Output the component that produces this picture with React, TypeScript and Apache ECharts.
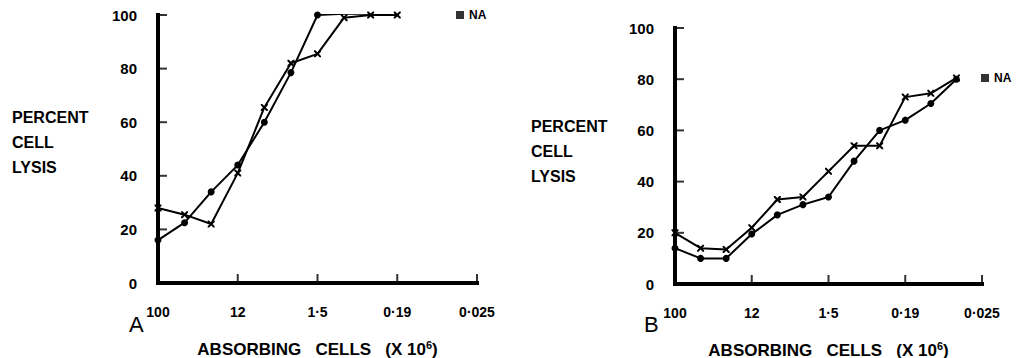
import React, { useEffect, useRef } from "react";
import * as echarts from "echarts";

const xTickLabels = ["100", "12", "1·5", "0·19", "0·025"];
const xTickSteps = [0, 3, 6, 9, 12];
const yTickValues = [0, 20, 40, 60, 80, 100];

const stepsA = [0, 1, 2, 3, 4, 5, 6, 7, 8, 9];
const dotsA = [16, 22.5, 34, 44, 60, 78.5, 100, 100.5, 100.5, 100.5];
const crossA = [28, 25.5, 22, 41, 65.5, 82, 85.5, 99, 100, 100];

const stepsB = [0, 1, 2, 3, 4, 5, 6, 7, 8, 9, 10, 11];
const dotsB = [14, 10, 10, 19.5, 27, 31, 34, 48, 60, 64, 70.5, 80];
const crossB = [20, 14, 13.5, 22, 33, 34, 44, 54, 54, 73, 74.5, 80.5];

const FONT = "'Liberation Sans', Arial, sans-serif";
const CROSS =
  "path://M0,0L2,0L5,3L8,0L10,0L10,2L7,5L10,8L10,10L8,10L5,7L2,10L0,10L0,8L3,5L0,2Z";

const xMin = xTickSteps[0];
const xMax = xTickSteps[xTickSteps.length - 1];
const yMin = yTickValues[0];
const yMax = yTickValues[yTickValues.length - 1];

const xAxisCfg = (gridIndex: number) => ({
  type: "value",
  gridIndex,
  min: xMin,
  max: xMax,
  interval: 3,
  axisLine: { show: false, onZero: false },
  axisTick: { show: false },
  axisLabel: {
    formatter: (v: number) => xTickLabels[Math.round(v / 3)] ?? "",
    margin: 22,
    color: "#000",
    fontSize: 14,
    fontWeight: "bold",
    fontFamily: FONT,
  },
  splitLine: { show: false },
  name: "ABSORBING   CELLS   (X 10{sup|6})",
  nameLocation: "middle",
  nameGap: 56,
  nameTextStyle: {
    color: "#000",
    fontSize: 17,
    fontWeight: "bold",
    fontFamily: FONT,
    rich: {
      sup: {
        color: "#000",
        fontSize: 11,
        fontWeight: "bold",
        fontFamily: FONT,
        padding: [0, 0, 9, 0],
      },
    },
  },
});

const yAxisCfg = (gridIndex: number) => ({
  type: "value",
  gridIndex,
  min: yMin,
  max: yMax,
  interval: 20,
  axisLine: { show: false },
  axisTick: { show: false },
  axisLabel: {
    margin: 21,
    color: "#000",
    fontSize: 15,
    fontWeight: "bold",
    fontFamily: FONT,
  },
  splitLine: { show: false },
});

// Axis frame as a polyline through the axes' own scale
const frameSeries = (gi: number) => ({
  name: "frame" + gi,
  type: "line",
  xAxisIndex: gi,
  yAxisIndex: gi,
  silent: true,
  symbol: "none",
  z: 4,
  data: [
    [xMax, yMin],
    [xMin, yMin],
    [xMin, yMax],
  ],
  lineStyle: { color: "#000", width: 4, cap: "square", join: "miter" },
});

// Inward tick marks, placed at tick values
const xTickSeries = (gi: number) => ({
  name: "xticks" + gi,
  type: "scatter",
  xAxisIndex: gi,
  yAxisIndex: gi,
  silent: true,
  z: 4,
  symbol: "rect",
  symbolSize: [2, 9],
  symbolOffset: [0, -4.5],
  data: xTickSteps.slice(1).map((t) => [t, yMin]),
  itemStyle: { color: "#000" },
});

const yTickSeries = (gi: number) => ({
  name: "yticks" + gi,
  type: "scatter",
  xAxisIndex: gi,
  yAxisIndex: gi,
  silent: true,
  z: 4,
  symbol: "rect",
  symbolSize: [9, 2],
  symbolOffset: [4.5, 0],
  data: yTickValues.slice(1).map((v) => [xMin, v]),
  itemStyle: { color: "#000" },
});

const lineSeries = (
  name: string,
  xi: number,
  steps: number[],
  vals: number[],
  symbol: string,
  size: number
) => ({
  name,
  type: "line",
  xAxisIndex: xi,
  yAxisIndex: xi,
  data: steps.map((s, i) => [s, vals[i]]),
  symbol,
  symbolSize: size,
  lineStyle: { color: "#000", width: 2 },
  itemStyle: { color: "#000" },
  z: 3,
});

const legendCfg = (left: number, top: number) => ({
  data: ["NA"],
  left,
  top,
  padding: 0,
  icon: "rect",
  itemWidth: 8,
  itemHeight: 8,
  itemGap: 4,
  selectedMode: false,
  textStyle: { color: "#000", fontSize: 12, fontWeight: "bold", fontFamily: FONT },
});

export default function App() {
  const ref = useRef<HTMLDivElement>(null);
  useEffect(() => {
    if (!ref.current) return;
    const chart = echarts.init(ref.current, undefined, { renderer: "svg" });
    chart.setOption({
      animation: false,
      backgroundColor: "#fff",
      grid: [
        { left: 158, top: 15, width: 319, height: 268, outerBoundsMode: "none" },
        { left: 675, top: 28, width: 307, height: 256, outerBoundsMode: "none" },
      ],
      xAxis: [xAxisCfg(0), xAxisCfg(1)],
      yAxis: [yAxisCfg(0), yAxisCfg(1)],
      legend: [legendCfg(456, 9), legendCfg(981, 72)],
      graphic: [
        {
          type: "text",
          left: 12,
          top: 105,
          style: {
            text: "PERCENT\nCELL\nLYSIS",
            fill: "#000",
            font: `bold 16px ${FONT}`,
            lineHeight: 25,
          },
        },
        {
          type: "text",
          left: 531,
          top: 114,
          style: {
            text: "PERCENT\nCELL\nLYSIS",
            fill: "#000",
            font: `bold 16px ${FONT}`,
            lineHeight: 25,
          },
        },
        {
          type: "text",
          left: 129,
          top: 313,
          style: { text: "A", fill: "#000", font: `22px ${FONT}` },
        },
        {
          type: "text",
          left: 644,
          top: 313,
          style: { text: "B", fill: "#000", font: `22px ${FONT}` },
        },
      ],
      series: [
        frameSeries(0),
        frameSeries(1),
        xTickSeries(0),
        xTickSeries(1),
        yTickSeries(0),
        yTickSeries(1),
        lineSeries("dots A", 0, stepsA, dotsA, "circle", 7),
        lineSeries("cross A", 0, stepsA, crossA, CROSS, 7),
        lineSeries("dots B", 1, stepsB, dotsB, "circle", 7),
        lineSeries("cross B", 1, stepsB, crossB, CROSS, 7),
        {
          name: "NA",
          type: "scatter",
          xAxisIndex: 0,
          yAxisIndex: 0,
          data: [],
          itemStyle: { color: "#000" },
        },
      ],
    });
    return () => chart.dispose();
  }, []);
  return (
    <div
      ref={ref}
      style={{ position: "absolute", left: 0, top: 0, width: 1018, height: 358 }}
    />
  );
}
